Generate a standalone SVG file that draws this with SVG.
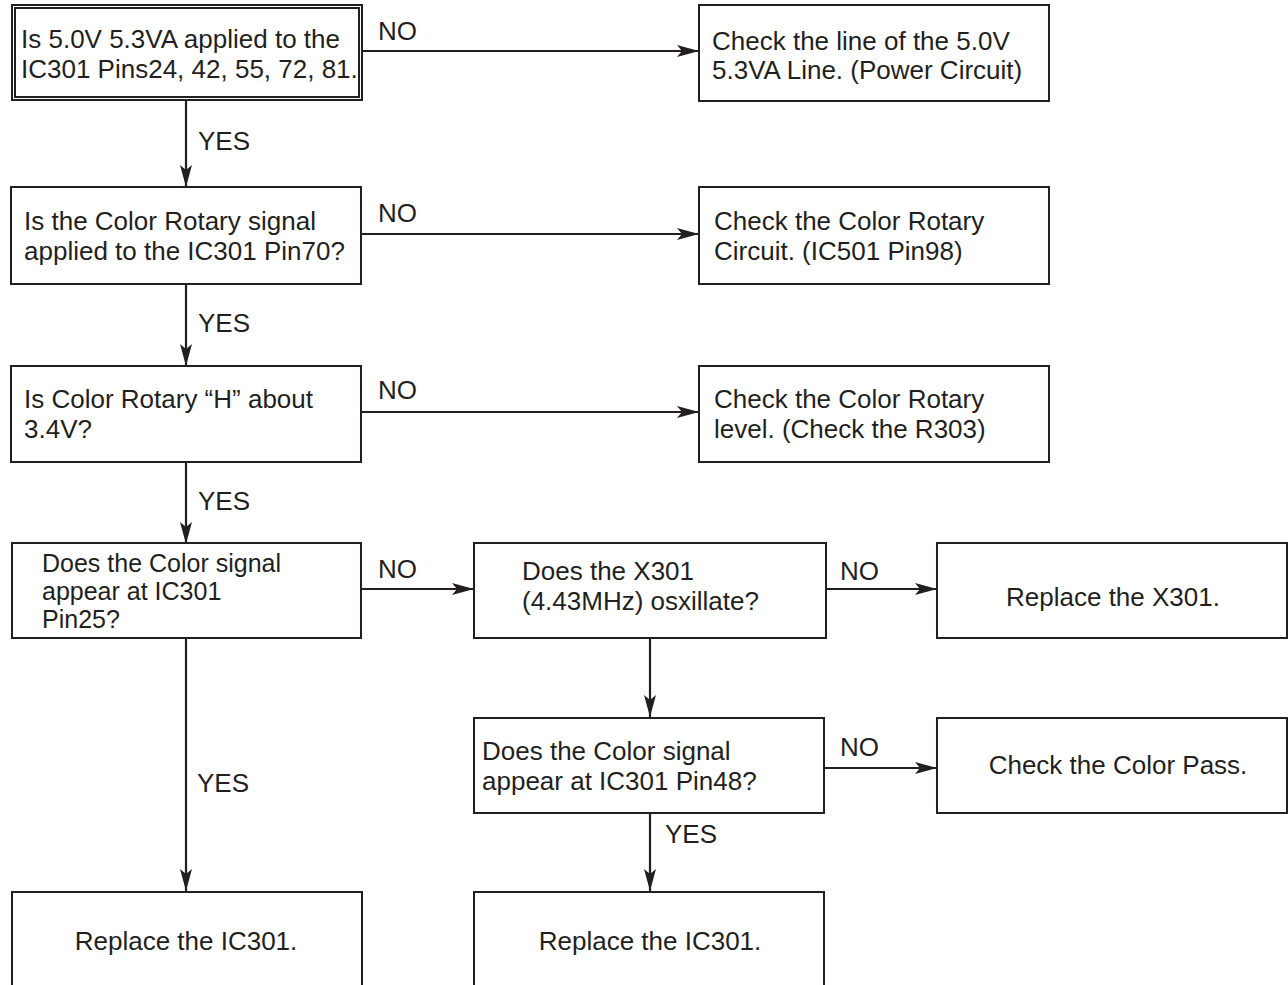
<svg xmlns="http://www.w3.org/2000/svg" width="1288" height="985" viewBox="0 0 1288 985">
<style>
.box{fill:#fff;stroke:#231f20;stroke-width:2}
.t{font-family:"Liberation Sans",Arial,sans-serif;font-size:26px;fill:#231f20}
.s{font-size:25px}
.m{text-anchor:middle}
.c{stroke:#231f20;stroke-width:2.2;fill:none}
</style>
<defs>
<marker id="ah" viewBox="0 0 22 12" refX="22" refY="6" markerWidth="22" markerHeight="12" markerUnits="userSpaceOnUse" orient="auto">
<path d="M0,0 L22,6 L0,12 L5,6 Z" fill="#231f20"/>
</marker>
</defs>
<rect width="1288" height="985" fill="#fff"/>
<g id="connectors">
<line class="c" x1="362" y1="51" x2="699" y2="51" marker-end="url(#ah)"/>
<line class="c" x1="186" y1="100" x2="186" y2="187" marker-end="url(#ah)"/>
<line class="c" x1="361" y1="234" x2="699" y2="234" marker-end="url(#ah)"/>
<line class="c" x1="186" y1="284" x2="186" y2="366" marker-end="url(#ah)"/>
<line class="c" x1="361" y1="412" x2="699" y2="412" marker-end="url(#ah)"/>
<line class="c" x1="186" y1="462" x2="186" y2="544" marker-end="url(#ah)"/>
<line class="c" x1="361" y1="589" x2="474" y2="589" marker-end="url(#ah)"/>
<line class="c" x1="826" y1="589" x2="937" y2="589" marker-end="url(#ah)"/>
<line class="c" x1="650" y1="638" x2="650" y2="717" marker-end="url(#ah)"/>
<line class="c" x1="824" y1="768" x2="937" y2="768" marker-end="url(#ah)"/>
<line class="c" x1="650" y1="813" x2="650" y2="891" marker-end="url(#ah)"/>
<line class="c" x1="186" y1="638" x2="186" y2="891" marker-end="url(#ah)"/>
<text class="t" x="378" y="40">NO</text>
<text class="t" x="198" y="150">YES</text>
<text class="t" x="378" y="222">NO</text>
<text class="t" x="198" y="332">YES</text>
<text class="t" x="378" y="399">NO</text>
<text class="t" x="198" y="510">YES</text>
<text class="t" x="378" y="578">NO</text>
<text class="t" x="840" y="580">NO</text>
<text class="t" x="840" y="756">NO</text>
<text class="t" x="665" y="843">YES</text>
<text class="t" x="197" y="792">YES</text>
</g>
<g id="n1">
<rect class="box" x="12" y="5" width="350" height="95"/>
<rect class="box" x="15" y="8" width="344" height="89" stroke-width="1.5"/>
<text class="t" x="21" y="48">Is 5.0V 5.3VA applied to the</text>
<text class="t" x="21" y="78">IC301 Pins24, 42, 55, 72, 81.</text>
</g>
<g id="n2">
<rect class="box" x="699" y="5" width="350" height="96"/>
<text class="t" x="712" y="50">Check the line of the 5.0V</text>
<text class="t" x="712" y="79">5.3VA Line. (Power Circuit)</text>
</g>
<g id="n3">
<rect class="box" x="11" y="187" width="350" height="97"/>
<text class="t" x="24" y="230">Is the Color Rotary signal</text>
<text class="t" x="24" y="260">applied to the IC301 Pin70?</text>
</g>
<g id="n4">
<rect class="box" x="699" y="187" width="350" height="97"/>
<text class="t" x="714" y="230">Check the Color Rotary</text>
<text class="t" x="714" y="260">Circuit. (IC501 Pin98)</text>
</g>
<g id="n5">
<rect class="box" x="11" y="366" width="350" height="96"/>
<text class="t" x="24" y="408">Is Color Rotary “H” about</text>
<text class="t" x="24" y="438">3.4V?</text>
</g>
<g id="n6">
<rect class="box" x="699" y="366" width="350" height="96"/>
<text class="t" x="714" y="408">Check the Color Rotary</text>
<text class="t" x="714" y="438">level. (Check the R303)</text>
</g>
<g id="n7">
<rect class="box" x="12" y="543" width="349" height="95"/>
<text class="t s" x="42" y="572">Does the Color signal</text>
<text class="t s" x="42" y="600">appear at IC301</text>
<text class="t s" x="42" y="628">Pin25?</text>
</g>
<g id="n8">
<rect class="box" x="474" y="543" width="352" height="95"/>
<text class="t" x="522" y="580">Does the X301</text>
<text class="t" x="522" y="610">(4.43MHz) osxillate?</text>
</g>
<g id="n9">
<rect class="box" x="937" y="543" width="350" height="95"/>
<text class="t m" x="1113" y="606">Replace the X301.</text>
</g>
<g id="n10">
<rect class="box" x="474" y="718" width="350" height="95"/>
<text class="t" x="482" y="760">Does the Color signal</text>
<text class="t" x="482" y="790">appear at IC301 Pin48?</text>
</g>
<g id="n11">
<rect class="box" x="937" y="718" width="350" height="95"/>
<text class="t m" x="1118" y="774">Check the Color Pass.</text>
</g>
<g id="n12">
<rect class="box" x="12" y="892" width="350" height="100"/>
<text class="t m" x="186" y="950">Replace the IC301.</text>
</g>
<g id="n13">
<rect class="box" x="474" y="892" width="350" height="100"/>
<text class="t m" x="650" y="950">Replace the IC301.</text>
</g>
</svg>
